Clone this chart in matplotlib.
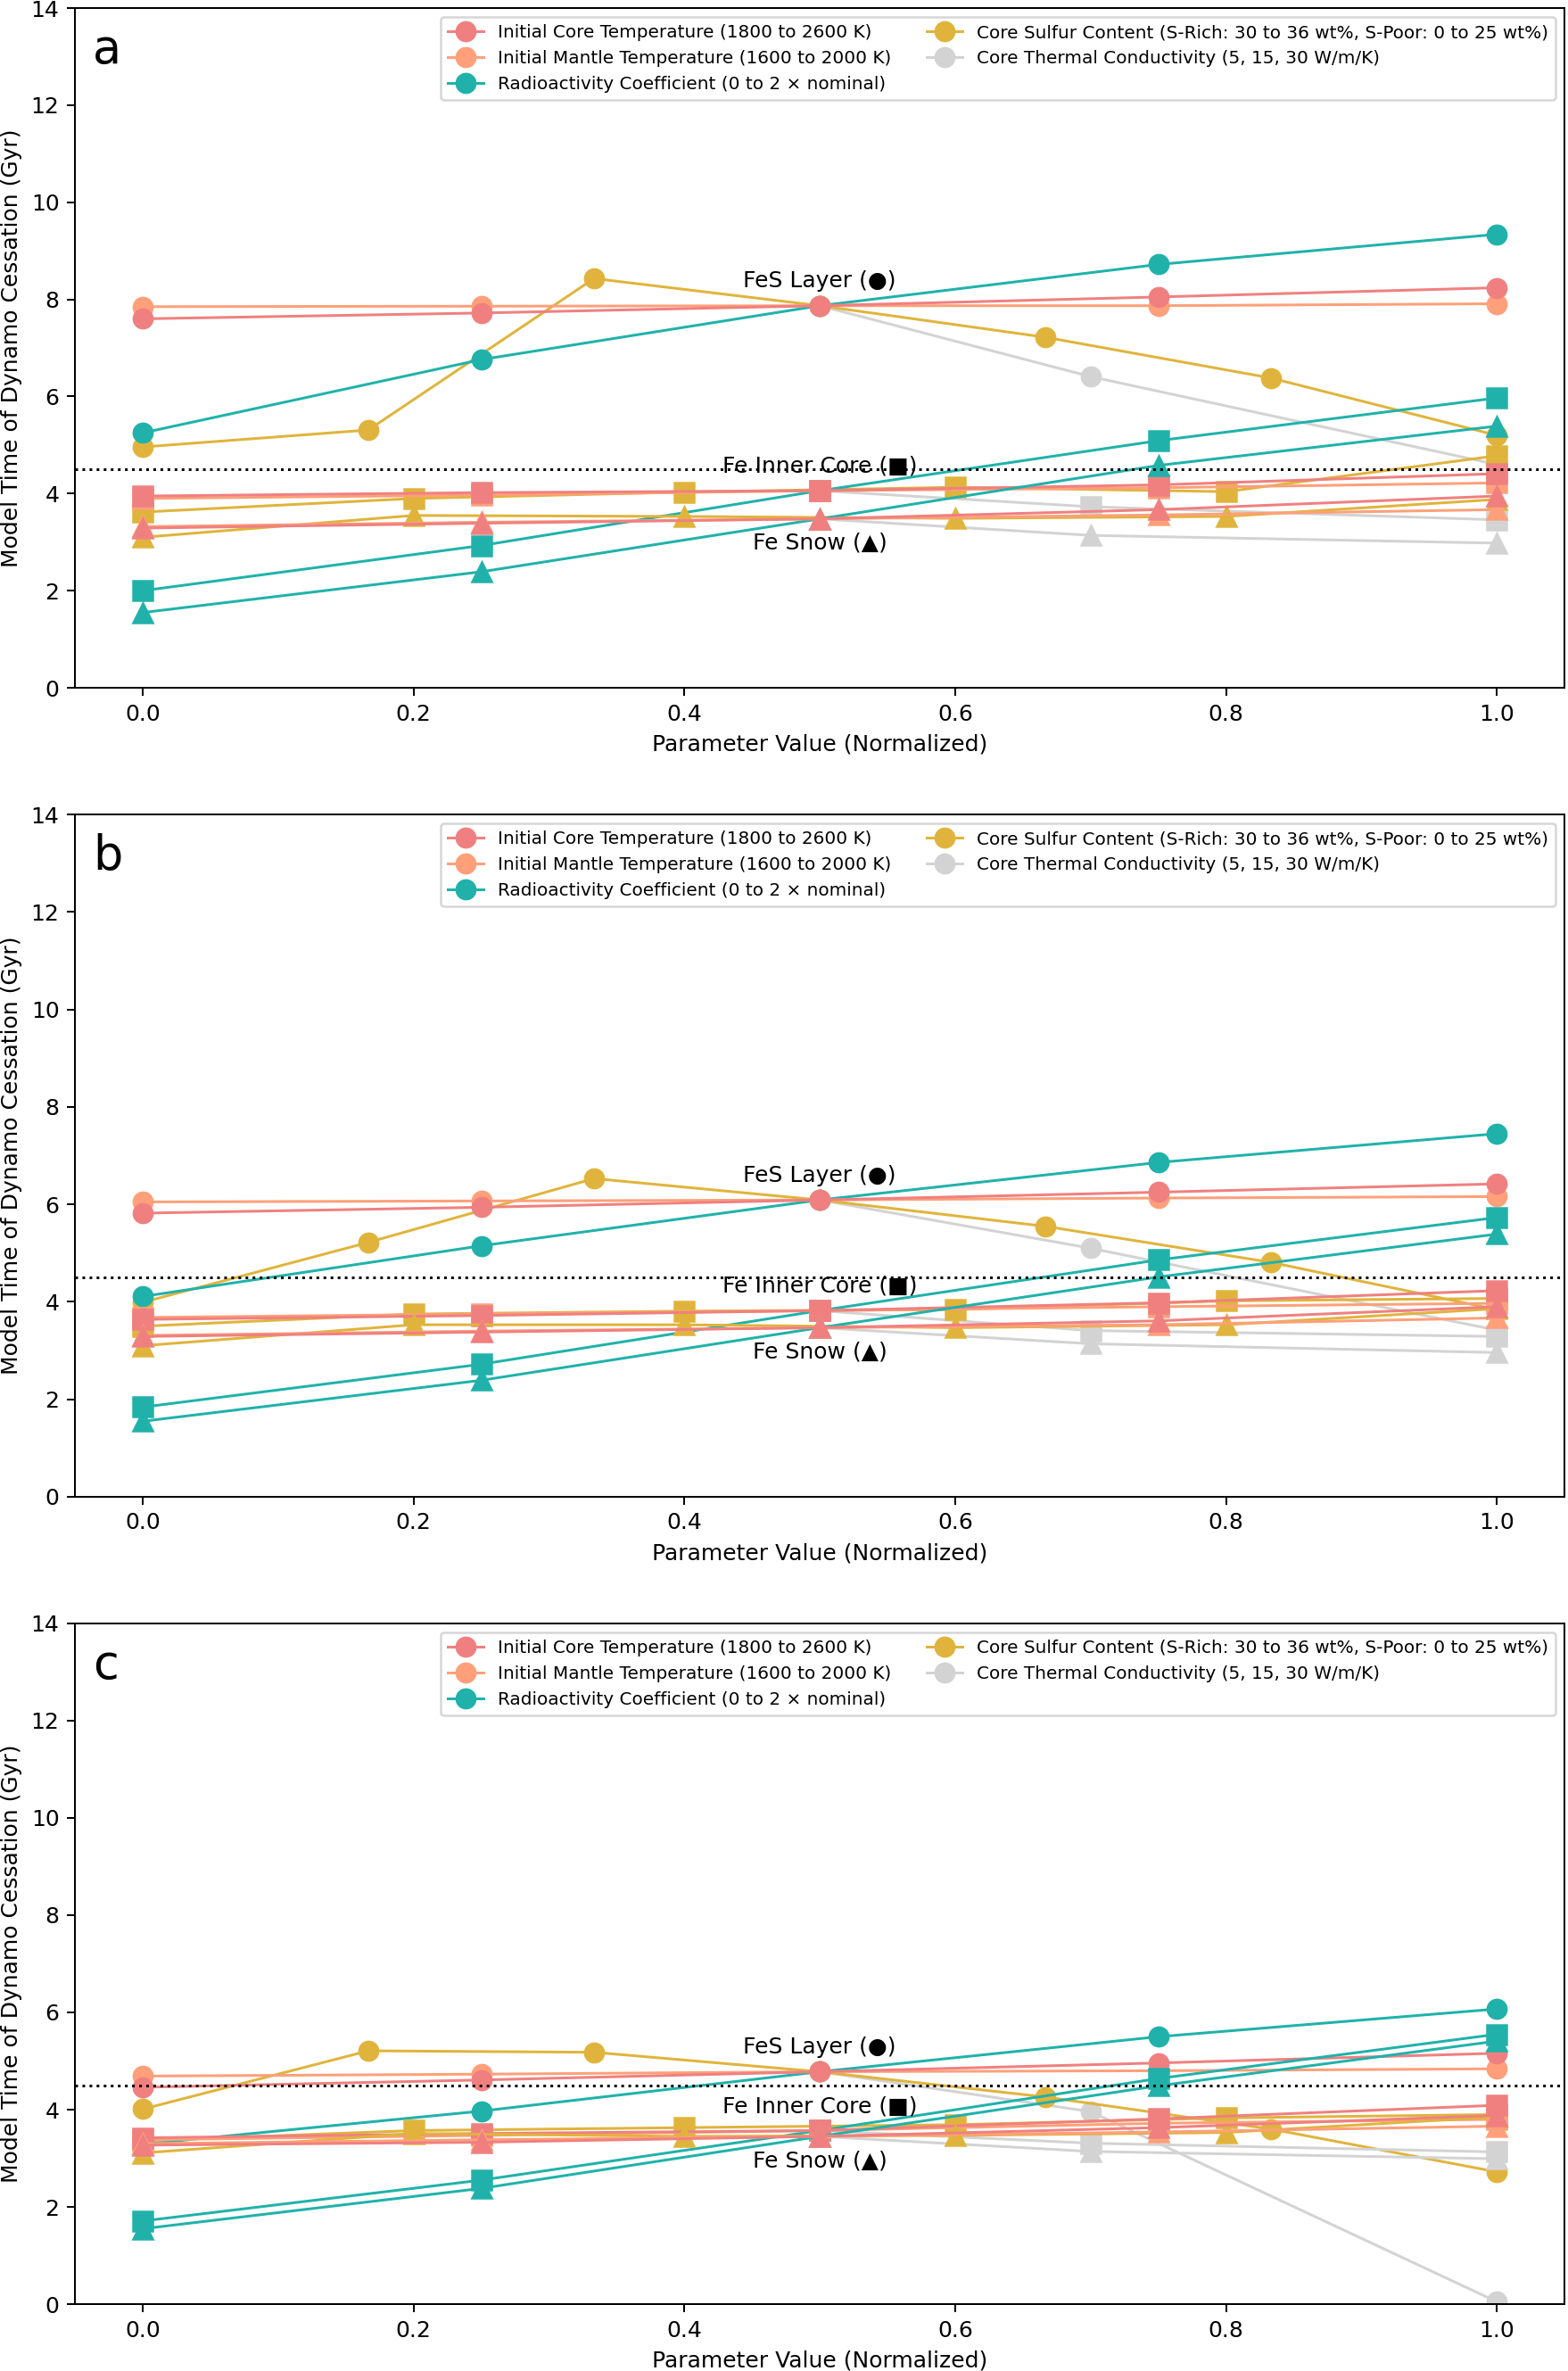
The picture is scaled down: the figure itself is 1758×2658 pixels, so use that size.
import numpy as np
import matplotlib
matplotlib.use("Agg")
import matplotlib.pyplot as plt
from matplotlib.lines import Line2D

# parameter sweeps (x positions, normalized)
x_std = [0.0, 0.25, 0.5, 0.75, 1.0]           # core T, mantle T, radioactivity
s_rich_wt = [30, 31, 32, 33, 34, 35, 36]       # FeS layer runs
s_poor_wt = [0, 5, 10, 15, 20, 25]             # inner core / snow runs
x_cond = [0.5, 0.7, 1.0]                       # thermal conductivity

x_s_rich = [(w - 30) / 6 for w in s_rich_wt]
x_s_poor = [w / 25 for w in s_poor_wt]

labels = ['Initial Core Temperature (1800 to 2600 K)',
          'Initial Mantle Temperature (1600 to 2000 K)',
          'Radioactivity Coefficient (0 to 2 \u00d7 nominal)',
          'Core Sulfur Content (S-Rich: 30 to 36 wt%, S-Poor: 0 to 25 wt%)',
          'Core Thermal Conductivity (5, 15, 30 W/m/K)']
colors = ['#F08080', '#FFA07A', '#20B2AA', '#E0B43C', '#D3D3D3']

# ---- panel a ----
a_fes_core = [7.60, 7.72, 7.87, 8.05, 8.24]
a_fes_mantle = [7.85, 7.86, 7.87, 7.87, 7.91]
a_fes_radio = [5.25, 6.76, 7.87, 8.72, 9.34]
a_fes_sulfur = [4.96, 5.31, 8.43, 7.87, 7.22, 6.38, 5.20]
a_fes_cond = [7.87, 6.41, 4.60]

a_ic_core = [3.95, 4.02, 4.06, 4.18, 4.41]
a_ic_mantle = [3.90, 3.97, 4.06, 4.12, 4.22]
a_ic_radio = [2.00, 2.93, 4.06, 5.09, 5.97]
a_ic_sulfur = [3.62, 3.90, 4.03, 4.13, 4.04, 4.78]
a_ic_cond = [4.06, 3.73, 3.46]

a_sn_core = [3.29, 3.39, 3.48, 3.67, 3.95]
a_sn_mantle = [3.32, 3.41, 3.48, 3.56, 3.67]
a_sn_radio = [1.55, 2.39, 3.48, 4.58, 5.39]
a_sn_sulfur = [3.10, 3.55, 3.53, 3.49, 3.53, 3.88]
a_sn_cond = [3.48, 3.14, 2.98]

# ---- panel b ----
b_fes_core = [5.82, 5.94, 6.09, 6.25, 6.42]
b_fes_mantle = [6.05, 6.07, 6.09, 6.13, 6.16]
b_fes_radio = [4.11, 5.15, 6.09, 6.86, 7.45]
b_fes_sulfur = [3.99, 5.22, 6.53, 6.09, 5.55, 4.81, 3.84]
b_fes_cond = [6.09, 5.10, 3.42]

b_ic_core = [3.64, 3.72, 3.82, 3.98, 4.23]
b_ic_mantle = [3.68, 3.75, 3.82, 3.90, 3.97]
b_ic_radio = [1.84, 2.72, 3.82, 4.86, 5.73]
b_ic_sulfur = [3.50, 3.75, 3.81, 3.84, 4.02, 4.07]
b_ic_cond = [3.82, 3.41, 3.29]

b_sn_core = [3.29, 3.38, 3.47, 3.61, 3.90]
b_sn_mantle = [3.31, 3.40, 3.47, 3.53, 3.67]
b_sn_radio = [1.55, 2.39, 3.47, 4.51, 5.39]
b_sn_sulfur = [3.10, 3.53, 3.53, 3.47, 3.53, 3.86]
b_sn_cond = [3.47, 3.14, 2.96]

# ---- panel c ----
c_fes_core = [4.46, 4.61, 4.78, 4.96, 5.16]
c_fes_mantle = [4.69, 4.73, 4.78, 4.80, 4.84]
c_fes_radio = [3.29, 3.97, 4.78, 5.50, 6.07]
c_fes_sulfur = [4.01, 5.21, 5.18, 4.78, 4.26, 3.60, 2.72]
c_fes_cond = [4.78, 3.96, 0.05]

c_ic_core = [3.42, 3.51, 3.57, 3.81, 4.09]
c_ic_mantle = [3.38, 3.47, 3.57, 3.72, 3.80]
c_ic_radio = [1.71, 2.55, 3.57, 4.64, 5.55]
c_ic_sulfur = [3.36, 3.57, 3.63, 3.69, 3.83, 3.90]
c_ic_cond = [3.57, 3.31, 3.13]

c_sn_core = [3.27, 3.33, 3.45, 3.63, 3.88]
c_sn_mantle = [3.30, 3.38, 3.45, 3.54, 3.66]
c_sn_radio = [1.55, 2.38, 3.45, 4.49, 5.41]
c_sn_sulfur = [3.11, 3.51, 3.45, 3.47, 3.53, 3.85]
c_sn_cond = [3.45, 3.14, 2.99]

panels = {
    'a': [[a_fes_core, a_fes_mantle, a_fes_radio, a_fes_sulfur, a_fes_cond],
          [a_ic_core, a_ic_mantle, a_ic_radio, a_ic_sulfur, a_ic_cond],
          [a_sn_core, a_sn_mantle, a_sn_radio, a_sn_sulfur, a_sn_cond]],
    'b': [[b_fes_core, b_fes_mantle, b_fes_radio, b_fes_sulfur, b_fes_cond],
          [b_ic_core, b_ic_mantle, b_ic_radio, b_ic_sulfur, b_ic_cond],
          [b_sn_core, b_sn_mantle, b_sn_radio, b_sn_sulfur, b_sn_cond]],
    'c': [[c_fes_core, c_fes_mantle, c_fes_radio, c_fes_sulfur, c_fes_cond],
          [c_ic_core, c_ic_mantle, c_ic_radio, c_ic_sulfur, c_ic_cond],
          [c_sn_core, c_sn_mantle, c_sn_radio, c_sn_sulfur, c_sn_cond]],
}
markers = ['o', 's', '^']
scen_text = ['FeS Layer (\u25cf)', 'Fe Inner Core (\u25a0)', 'Fe Snow (\u25b2)']
text_off = [0.5, 0.5, -0.5]

fig = plt.figure(figsize=(1758 / 180, 2658 / 180), dpi=180)
bottoms = [0.7099, 0.3687, 0.0282]
heights = [0.2867, 0.2878, 0.2871]

for (name, scen), bot, h in zip(panels.items(), bottoms, heights):
    ax = fig.add_axes([0.0478, bot, 0.950, h])
    for si, series in enumerate(scen):
        s_x = x_s_rich if si == 0 else x_s_poor
        xs = [x_std, x_std, x_std, s_x, x_cond]
        # draw in reverse so core temperature ends on top
        for pi in range(4, -1, -1):
            ax.plot(xs[pi], series[pi], marker=markers[si], color=colors[pi],
                    lw=1.2, ms=8.5)
        nominal = series[0][2]
        ax.text(0.5, nominal + text_off[si], scen_text[si], ha='center',
                va='center', fontsize=10)
    ax.axhline(4.5, color='k', ls=':', lw=1.2)
    ax.set_ylim(0, 14)
    ax.set_xlim(-0.05, 1.05)
    ax.set_xticks([0.0, 0.2, 0.4, 0.6, 0.8, 1.0])
    ax.set_xlabel('Parameter Value (Normalized)')
    ax.set_ylabel('Model Time of Dynamo Cessation (Gyr)')
    ax.text(0.012, 0.972, name, transform=ax.transAxes, fontsize=21,
            ha='left', va='top')
    handles = [Line2D([], [], color=c, marker='o', lw=1.2, ms=8.5) for c in colors]
    ax.legend(handles, labels, loc='upper right', ncol=2, fontsize=8)

fig.savefig('out.png', dpi=180)
